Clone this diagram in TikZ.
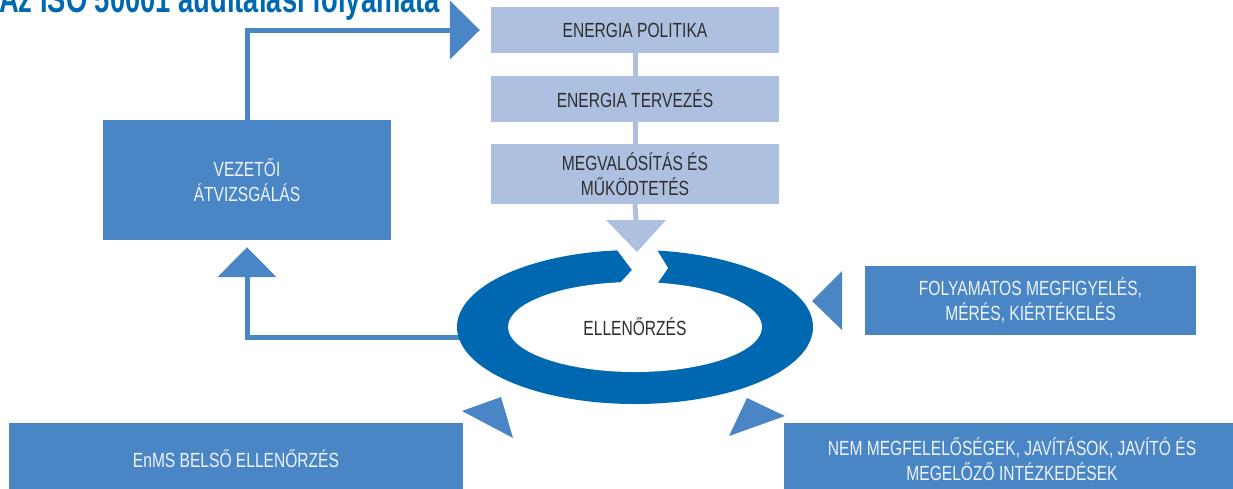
\documentclass[tikz,border=0pt]{standalone}
\usepackage{fontspec}
\setmainfont{Liberation Sans}[FakeStretch=0.76]
\newfontfamily\titlefont{Liberation Sans}[FakeStretch=0.72]
\usetikzlibrary{arrows.meta,shapes.geometric}
\definecolor{lightbox}{HTML}{ADC0E0}
\definecolor{midbox}{HTML}{4A86C5}
\definecolor{ringblue}{HTML}{0067B1}
\definecolor{darktext}{HTML}{2E2E2E}
\definecolor{lighttext}{HTML}{EEF3FA}
\tikzset{
  lbox/.style={fill=lightbox, text=darktext, inner sep=0pt, minimum width=288pt, align=center,
    font=\fontsize{20.5}{25}\selectfont},
  mbox/.style={fill=midbox, text=lighttext, inner sep=0pt, align=center,
    font=\fontsize{20.5}{25}\selectfont},
  lline/.style={draw=lightbox, line width=5pt},
  mline/.style={draw=midbox, line width=5pt},
  bigtip/.style={-{Triangle[length=30pt,width=58pt]}},
  tri/.style={fill=midbox},
}
\begin{document}
\begin{tikzpicture}[x=1pt,y=-1pt]
\useasboundingbox (0,0) rectangle (1233,488);
% title
\node[anchor=base west, inner sep=0pt, text=ringblue, font=\titlefont\fontsize{38}{42}\selectfont\bfseries] (title) at (-1,12) {Az ISO 50001 auditálási folyamata};
% top column
\node[lbox, minimum height=46pt] (pol) at (635,30) {ENERGIA POLITIKA};
\node[lbox, minimum height=46pt] (terv) at (635,99) {ENERGIA TERVEZÉS};
\node[lbox, minimum height=60pt] (megv) at (635,174) {MEGVALÓSÍTÁS ÉS\\MŰKÖDTETÉS};
\coordinate (dt) at (636,221);
% management review
\node[mbox, minimum width=288pt, minimum height=120pt] (vez) at (247,180) {VEZETŐI\\ÁTVIZSGÁLÁS};
% side boxes
\node[mbox, minimum width=331pt, minimum height=69pt] (foly) at (1030.5,300.5) {FOLYAMATOS MEGFIGYELÉS,\\MÉRÉS, KIÉRTÉKELÉS};
\node[mbox, minimum width=454pt, minimum height=72pt] (belso) at (236,459) {EnMS BELSŐ ELLENŐRZÉS};
\node[mbox, minimum width=456pt, minimum height=72pt] (nem) at (1012,459) {NEM MEGFELELŐSÉGEK, JAVÍTÁSOK, JAVÍTÓ ÉS\\MEGELŐZŐ INTÉZKEDÉSEK};
% connectors in the column
\draw[lline] (pol.south) -- (terv.north);
\draw[lline] (terv.south) -- (megv.north);
\draw[lline] (megv.south) -- (dt);
% arrows to/from management review
\coordinate (rl) at (464,337);
\draw[mline, bigtip] (rl) -| ([yshift=-7pt]vez.south);
\draw[mline, bigtip] (vez.north) |- ([xshift=-11pt]pol.west);
% ring
\node[ellipse, fill=ringblue, inner sep=0pt, minimum width=356pt, minimum height=154pt] (ring) at (635,327) {};
\node[ellipse, fill=white, inner sep=0pt, minimum width=254pt, minimum height=90pt] (inner) at (ring.center) {};
\fill[white] (612,238) -- (617,250) -- (632,270) -- (620,283) -- (620,292) -- (657,292) -- (657,284) -- (668,268) -- (657,250) -- (662,238) -- cycle;
\node[text=darktext, font=\fontsize{20.5}{25}\selectfont] (ell) at (ring.center) {ELLENŐRZÉS};
% down triangle
\fill[lightbox] (dt) ++(-30,-1) -- ++(60,0) -- (637,252) -- cycle;
% arrowheads toward the ring
\fill[tri] (812,301) -- (842,271) -- (842,330) -- cycle;
\fill[tri] (462,411) -- (501,397) -- (513,438) -- cycle;
\fill[tri] (747,398) -- (785,416) -- (729,436) -- cycle;
\end{tikzpicture}
\end{document}
